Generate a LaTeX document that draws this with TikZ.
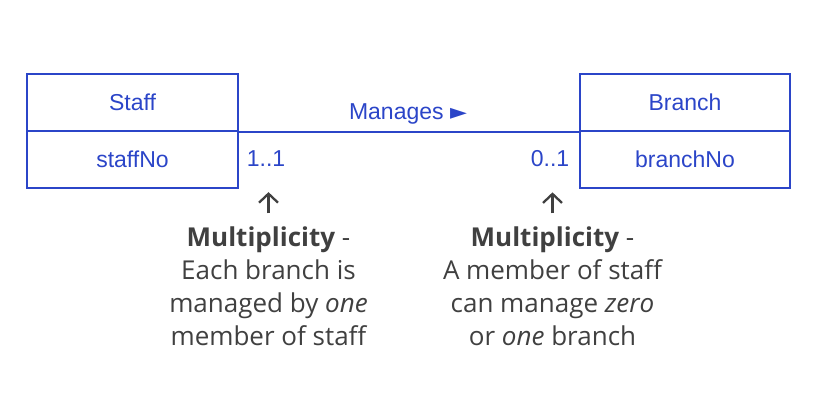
\documentclass[tikz,border=0pt]{standalone}
\usepackage{fontspec}
\setmainfont{Liberation Sans}
\newfontfamily\notefont{Open Sans}
\newfontfamily\symfont{DejaVu Sans}
\usetikzlibrary{arrows.meta}
\definecolor{umlblue}{HTML}{2B45C8}
\definecolor{notegray}{HTML}{404040}
\tikzset{
  classbox/.style = {draw = umlblue, line width = 2pt, minimum width = 211pt,
    minimum height = 57pt, inner sep = 0pt, text = umlblue,
    font = \fontsize{23}{26}\selectfont},
  multlabel/.style = {text = umlblue, inner sep = 0pt,
    font = \fontsize{23}{26}\selectfont},
  assoc/.style = {draw = umlblue, line width = 2pt},
  notetext/.style = {text = notegray, align = center, inner sep = 0pt,
    font = \notefont\fontsize{26}{33}\selectfont},
  pointer/.style = {draw = notegray, line width = 2.3pt,
    -{Straight Barb[length = 9pt, width = 19pt]}}
}
\begin{document}
\begin{tikzpicture}[x = 1pt, y = -1pt]
        \useasboundingbox (0, 0) rectangle (825, 404);
        \node[classbox] (staff) at (132.5, 102.5) {Staff};
        \node[classbox] (staffNo) at (132.5, 159) {staffNo};
        \node[classbox, minimum width = 210pt] (branch) at (685, 102.5) {Branch};
        \node[classbox, minimum width = 210pt] (branchNo) at (685, 159) {branchNo};
        \node[multlabel] (manages) at (408, 114) {Manages {\symfont\fontsize{22}{24}\selectfont ►}};
        \node[multlabel] (staffMult) at (266, 159) {1..1};
        \node[multlabel] (branchMult) at (550, 159) {0..1};
        \node[notetext] (staffNote) at (268.5, 286) {\textbf{Multiplicity} -\\Each branch is\\managed by \textit{one}\\member of staff};
        \node[notetext] (branchNote) at (552.5, 286) {\textbf{Multiplicity} -\\A member of staff\\can manage \textit{zero}\\or \textit{one} branch};
        \draw[assoc] (staff.south east) -- (branch.south west);
        \draw[pointer, shorten <= 13pt, shorten >= 25pt] (staffNote.north) -- (staffNote.north |- staffMult.south);
        \draw[pointer, shorten <= 13pt, shorten >= 25pt] (branchNote.north) -- (branchNote.north |- branchMult.south);
        \end{tikzpicture}
\end{document}
